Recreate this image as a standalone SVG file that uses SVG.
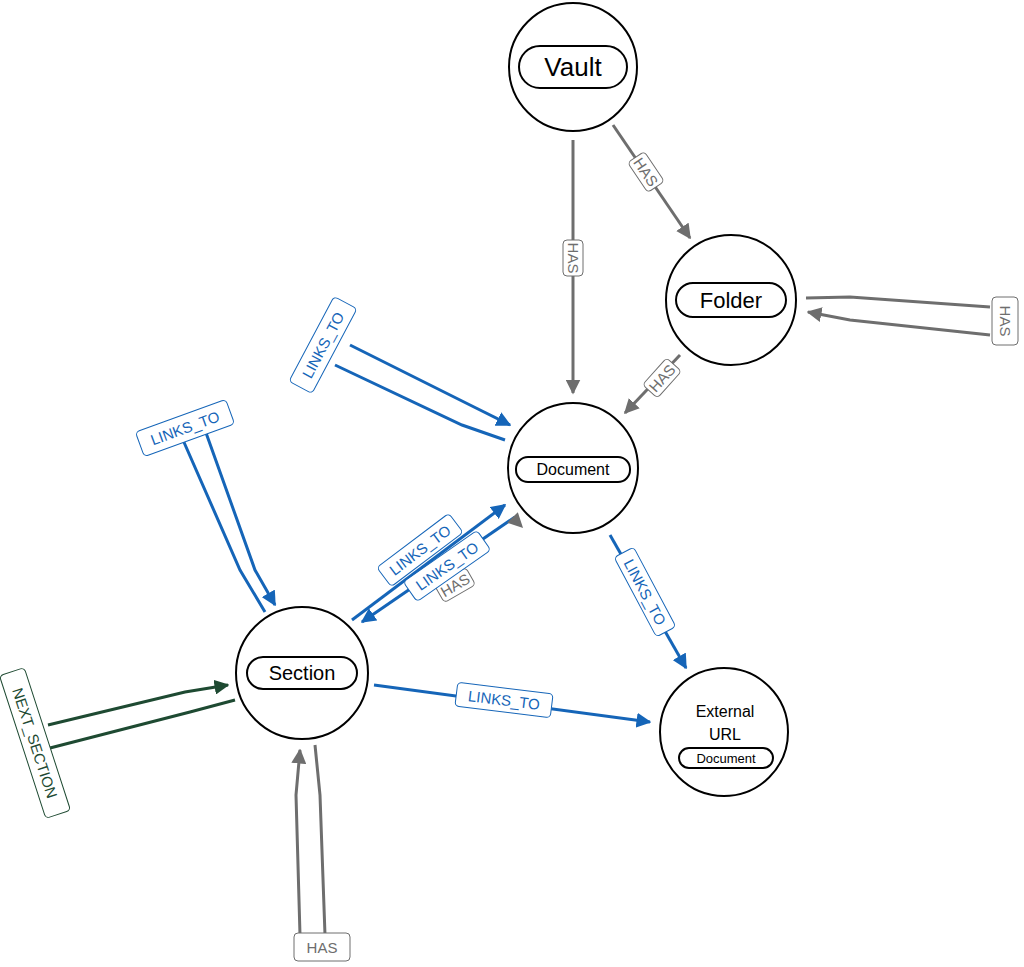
<svg xmlns="http://www.w3.org/2000/svg" width="1024" height="967" viewBox="0 0 1024 967">
<style>
.n{fill:#fff;stroke:#000;stroke-width:2}
.p{fill:#fff;stroke:#000;stroke-width:2}
.t{font-family:"Liberation Sans",Arial,sans-serif;text-anchor:middle;dominant-baseline:central}
.e{fill:none;stroke-width:3}
.g{stroke:#6e6e6e}.b{stroke:#1565b8}.gr{stroke:#1e4a32}
.lb{fill:#fff;stroke-width:1}
.lt{font-family:"Liberation Sans",Arial,sans-serif;font-size:15px;text-anchor:middle;dominant-baseline:central}
</style>
<defs>
<marker id="ag" viewBox="0 0 10 10" refX="9" refY="5" markerWidth="5" markerHeight="5" orient="auto" markerUnits="strokeWidth"><path d="M0,0L10,5L0,10z" fill="#6e6e6e"/></marker>
<marker id="ab" viewBox="0 0 10 10" refX="9" refY="5" markerWidth="5" markerHeight="5" orient="auto" markerUnits="strokeWidth"><path d="M0,0L10,5L0,10z" fill="#1565b8"/></marker>
<marker id="agr" viewBox="0 0 10 10" refX="9" refY="5" markerWidth="5" markerHeight="5" orient="auto" markerUnits="strokeWidth"><path d="M0,0L10,5L0,10z" fill="#1e4a32"/></marker>
</defs>
<g id="connectors">
<path class="e g" d="M573,140L573,393" marker-end="url(#ag)"/>
<path class="e g" d="M613,125L690,238" marker-end="url(#ag)"/>
<path class="e g" d="M806,298L850,297L990,307"/>
<path class="e g" d="M990,335L850,320L808,312" marker-end="url(#ag)"/>
<path class="e g" d="M680,355L625,413" marker-end="url(#ag)"/>
<path class="e b" d="M505,440L462,425L335,365"/>
<path class="e b" d="M350,345L470,405L510,425" marker-end="url(#ab)"/>
<path class="e b" d="M265,612L240,570L183,440"/>
<path class="e b" d="M205,430L255,570L275,605" marker-end="url(#ab)"/>
<path class="e gr" d="M235,700L190,712L50,748"/>
<path class="e gr" d="M48,725L185,692L228,685" marker-end="url(#agr)"/>
<path class="e g" d="M315,745L320,795L325,935"/>
<path class="e g" d="M300,935L296,795L300,750" marker-end="url(#ag)"/>
<path class="e b" d="M352,620L505,505" marker-end="url(#ab)"/>
<path class="e b" d="M515,517L362,622" marker-end="url(#ab)"/>
<path class="e g" d="M522,527Q470,600L372,637" marker-end="url(#ag)"/>
<path class="e b" d="M610,535L686,668" marker-end="url(#ab)"/>
<path class="e b" d="M374,685L650,722" marker-end="url(#ab)"/>
<g transform="translate(573,258) rotate(90)"><rect class="lb" x="-18" y="-10" width="36" height="20" rx="4" stroke="#6e6e6e"/><text class="lt" fill="#6e6e6e">HAS</text></g>
<g transform="translate(646,172) rotate(56)"><rect class="lb" x="-18" y="-10" width="36" height="20" rx="4" stroke="#6e6e6e"/><text class="lt" fill="#6e6e6e">HAS</text></g>
<g transform="translate(1005,321) rotate(90)"><rect class="lb" x="-24" y="-13" width="48" height="26" rx="4" stroke="#6e6e6e"/><text class="lt" fill="#6e6e6e">HAS</text></g>
<g transform="translate(662,378) rotate(-48)"><rect class="lb" x="-18" y="-10" width="36" height="20" rx="4" stroke="#6e6e6e"/><text class="lt" fill="#6e6e6e">HAS</text></g>
<g transform="translate(323,345) rotate(-62)"><rect class="lb" x="-48" y="-13" width="96" height="26" rx="4" stroke="#1565b8"/><text class="lt" fill="#1565b8">LINKS_TO</text></g>
<g transform="translate(185,428) rotate(-20)"><rect class="lb" x="-48" y="-13" width="96" height="26" rx="4" stroke="#1565b8"/><text class="lt" fill="#1565b8">LINKS_TO</text></g>
<g transform="translate(35,743) rotate(72)"><rect class="lb" x="-75" y="-13" width="150" height="26" rx="4" stroke="#1e4a32"/><text class="lt" fill="#1e4a32">NEXT_SECTION</text></g>
<g transform="translate(322,947)"><rect class="lb" x="-28" y="-14" width="56" height="28" rx="4" stroke="#6e6e6e"/><text class="lt" fill="#6e6e6e">HAS</text></g>
<g transform="translate(455,585) rotate(-30)"><rect class="lb" x="-18" y="-10" width="36" height="20" rx="4" stroke="#6e6e6e"/><text class="lt" fill="#6e6e6e">HAS</text></g>
<g transform="translate(447,566) rotate(-35)"><rect class="lb" x="-45" y="-12" width="90" height="24" rx="4" stroke="#1565b8"/><text class="lt" fill="#1565b8">LINKS_TO</text></g>
<g transform="translate(420,550) rotate(-37)"><rect class="lb" x="-45" y="-12" width="90" height="24" rx="4" stroke="#1565b8"/><text class="lt" fill="#1565b8">LINKS_TO</text></g>
<g transform="translate(645,592) rotate(62)"><rect class="lb" x="-45" y="-11" width="90" height="22" rx="4" stroke="#1565b8"/><text class="lt" fill="#1565b8">LINKS_TO</text></g>
<g transform="translate(504,700) rotate(7)"><rect class="lb" x="-48" y="-12" width="96" height="24" rx="4" stroke="#1565b8"/><text class="lt" fill="#1565b8">LINKS_TO</text></g>
</g>
<g id="vault"><circle class="n" cx="573" cy="67" r="64"/><rect class="p" x="519" y="46" width="108" height="42" rx="21" stroke-width="3"/><text class="t" x="573" y="67" font-size="26">Vault</text></g>
<g id="folder"><circle class="n" cx="731" cy="300" r="65"/><rect class="p" x="676" y="283" width="110" height="34" rx="17" stroke-width="2.5"/><text class="t" x="731" y="300" font-size="22">Folder</text></g>
<g id="document"><circle class="n" cx="573" cy="468" r="65"/><rect class="p" x="516" y="457" width="114" height="25" rx="12"/><text class="t" x="573" y="469" font-size="16">Document</text></g>
<g id="section"><circle class="n" cx="302" cy="673" r="66"/><rect class="p" x="247" y="657" width="110" height="32" rx="16" stroke-width="2.5"/><text class="t" x="302" y="673" font-size="20">Section</text></g>
<g id="external"><circle class="n" cx="724" cy="732" r="64"/><text class="t" x="725" y="711" font-size="16">External</text><text class="t" x="725" y="734" font-size="16">URL</text><rect class="p" x="679" y="748" width="94" height="20" rx="10" stroke-width="1.5"/><text class="t" x="726" y="758" font-size="13">Document</text></g>
</svg>
